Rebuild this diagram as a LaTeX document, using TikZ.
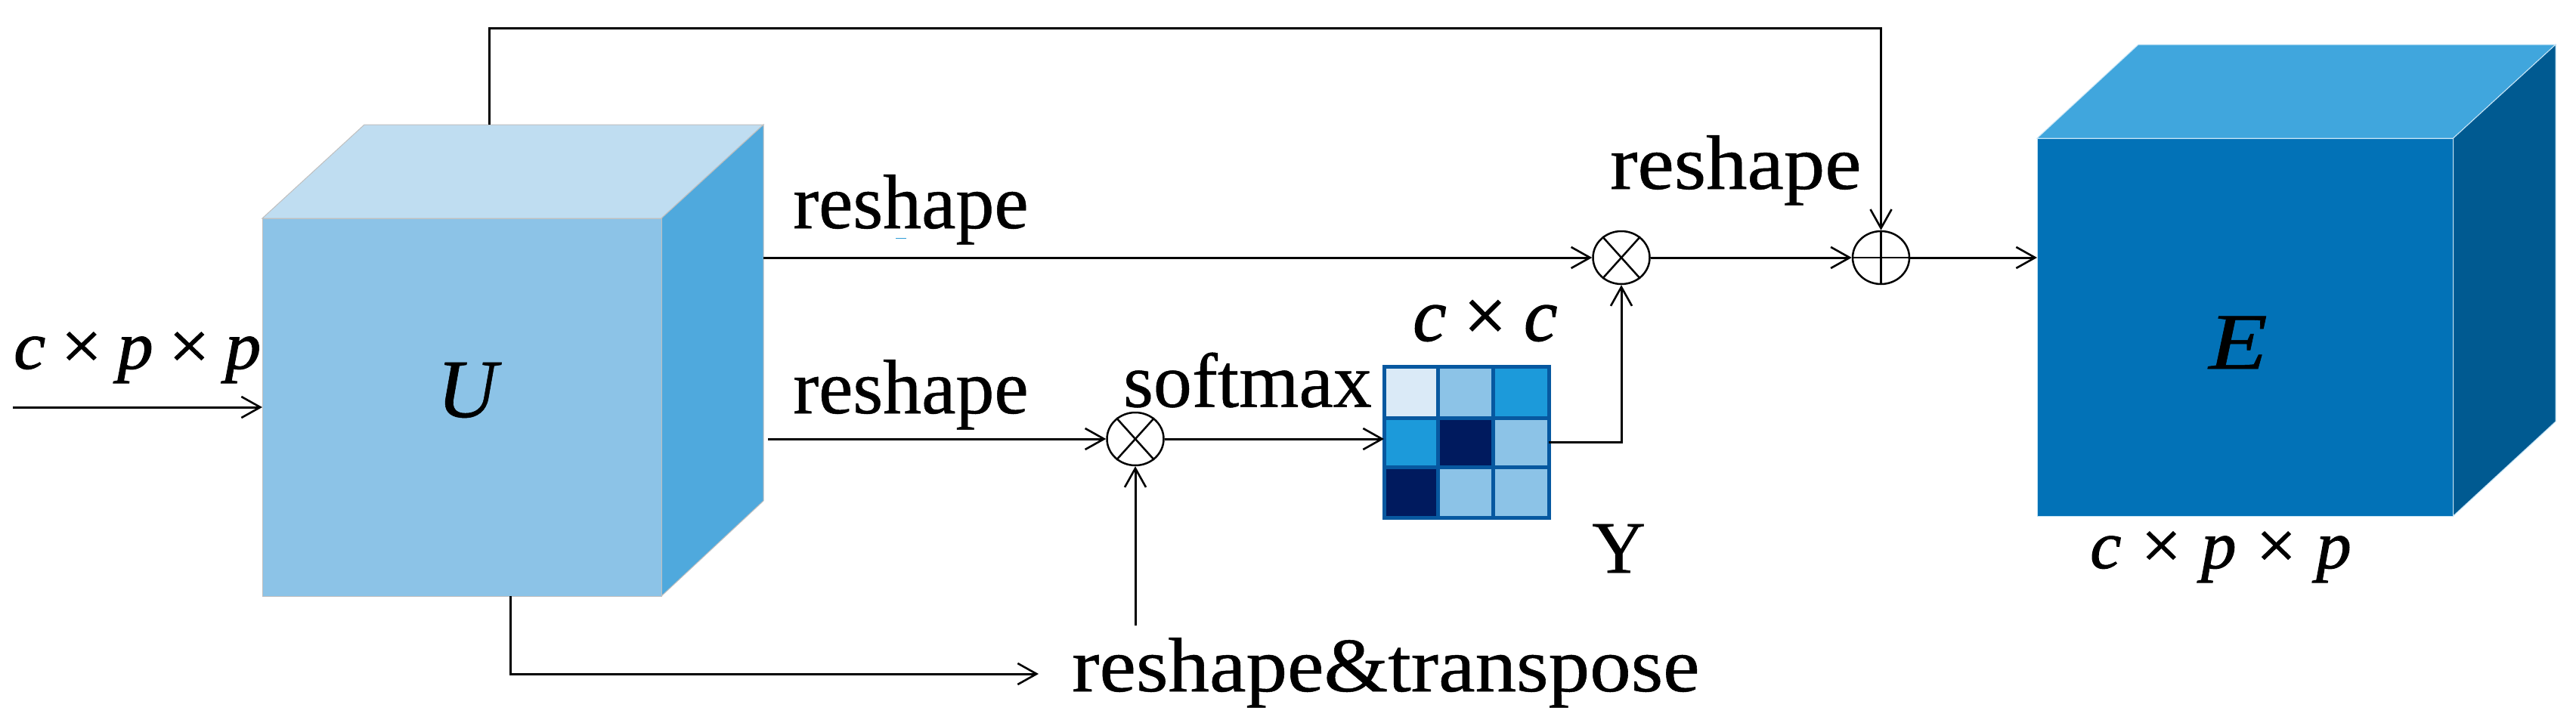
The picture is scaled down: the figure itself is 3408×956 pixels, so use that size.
\documentclass[tikz,border=0pt]{standalone}
\usepackage{graphicx}
\usepackage{fontspec}
\setmainfont{Liberation Serif}[FakeBold=0.5]
\newfontfamily\dimfont{Liberation Serif}[FakeBold=1.2]
\usetikzlibrary{arrows.meta,shapes.geometric}
\definecolor{uFront}{HTML}{8CC3E7}
\definecolor{uTop}{HTML}{BFDDF1}
\definecolor{uSide}{HTML}{4FA9DD}
\definecolor{eFront}{HTML}{0272B7}
\definecolor{eTop}{HTML}{40A6DD}
\definecolor{eSide}{HTML}{005A91}
\definecolor{gridLine}{HTML}{0758A0}
\definecolor{cLight}{HTML}{DAEAF7}
\definecolor{cBright}{HTML}{1C9ADA}
\definecolor{cDark}{HTML}{001A5E}
\definecolor{speck}{HTML}{2E9BD6}
\newcommand{\labelsize}[1]{\fontsize{#1}{#1}\selectfont}
\newcommand{\dimtext}[1]{\textit{c}\kern#1pt×\kern#1pt\textit{p}\kern#1pt×\kern#1pt\textit{p}}
\tikzset{
  conn/.style={line width=3pt,-{Straight Barb[length=25pt,width=28pt,line width=2.6pt]}},
  lbl/.style={anchor=base west,inner sep=0pt,font=\labelsize{102}},
  dimlbl/.style={anchor=base west,inner sep=0pt,font=\labelsize{90}\dimfont},
  opnode/.style={draw,line width=2.5pt,ellipse,minimum width=75pt,minimum height=70pt,inner sep=0pt,fill=white}
}
\begin{document}
\begin{tikzpicture}[x=1pt,y=-1pt]
\useasboundingbox (0,0) rectangle (3408,956);
% cube U
\fill[uTop,draw=black!25,line width=1pt] (347,289) -- (482,165) -- (1010,165) -- (875,289) -- cycle;
\fill[uSide,draw=black!25,line width=1pt] (875,289) -- (1010,165) -- (1010,663) -- (875,789) -- cycle;
\node[fill=uFront,draw=black!25,line width=1pt,minimum width=528pt,minimum height=500pt,inner sep=0pt] (ufront) at (611,539) {};
\node[anchor=base west,inner sep=0pt,font=\labelsize{110}\itshape] (ulabel) at (578,552) {U};
% cube E
\fill[eTop,draw=white!70!eTop,line width=1pt] (2695,183) -- (2829,59) -- (3381,59) -- (3245.5,183) -- cycle;
\fill[eSide,draw=white!70!eTop,line width=1pt] (3245.5,183) -- (3381,59) -- (3381,558) -- (3245.5,683) -- cycle;
\node[fill=eFront,draw=white!70!eTop,line width=1pt,minimum width=550.5pt,minimum height=500pt,inner sep=0pt] (efront) at (2970.25,433) {};
\node[anchor=base west,inner sep=0pt,font=\labelsize{106}\itshape] (elabel) at (2922,488) {\scalebox{1.2}[1]{E}};
% grid
\node[minimum width=218pt,minimum height=200pt,inner sep=0pt] (grid) at (1940,585) {};
\fill[cLight]  (1831,485) rectangle (1902,553);
\fill[uFront]  (1902,485) rectangle (1975,553);
\fill[cBright] (1975,485) rectangle (2049,553);
\fill[cBright] (1831,553) rectangle (1902,618);
\fill[cDark]   (1902,553) rectangle (1975,618);
\fill[uFront]  (1975,553) rectangle (2049,618);
\fill[cDark]   (1831,618) rectangle (1902,685);
\fill[uFront]  (1902,618) rectangle (1975,685);
\fill[uFront]  (1975,618) rectangle (2049,685);
\draw[gridLine,line width=5pt] (1831,485) rectangle (2049,685)
  (1902,485) -- (1902,685) (1975,485) -- (1975,685)
  (1831,553) -- (2049,553) (1831,618) -- (2049,618);
% operators
\node[opnode] (mulA) at (1502,581) {};
\node[opnode] (mulB) at (2145,341) {};
\node[opnode] (addA) at (2488.5,341) {};
\foreach \n in {mulA,mulB}{
  \draw[line width=2.5pt] (\n.48) -- (\n.228) (\n.132) -- (\n.312);
}
\draw[line width=2.5pt] (addA.north) -- (addA.south) (addA.west) -- (addA.east);
% labels
\node[dimlbl] (dimIn) at (18,488) {\scalebox{1.05}[1]{\dimtext{20}}};
\node[dimlbl] (dimE) at (2765,752) {\scalebox{1.03}[1]{\dimtext{26}}};
\node[anchor=base west,inner sep=0pt,font=\labelsize{100}\dimfont] (dimY) at (1869,451) {\textit{c}\kern23pt×\kern23pt\textit{c}};
\node[lbl] (rsA) at (1049,302) {reshape};
\node[lbl] (rsB) at (1049,547) {reshape};
\node[lbl] (rsC) at (2130,250) {\scalebox{1.067}[1]{reshape}};
\node[lbl] (sm) at (1486,538.5) {softmax};
\node[lbl] (rt) at (1418,915) {\scalebox{1.07}[1]{reshape\&transpose}};
\node[anchor=base west,inner sep=0pt,font=\labelsize{98}] (ylbl) at (2106,758) {Y};
\fill[speck] (1185,314.5) rectangle (1199,316);
% free ends
\coordinate (inStart) at (17,539);
\coordinate (inEnd) at (347,539);
\coordinate (topStart) at (647,165);
\coordinate (topMid) at (2488.5,37);
\coordinate (botStart) at (675,789);
\coordinate (botEnd) at (1374,892);
\coordinate (aStart) at (1010,341);
\coordinate (bStart) at (1016,581);
\coordinate (gridIn) at (1831,581);
\coordinate (rtTop) at (1502,828);
\coordinate (eIn) at (2695,341);
% connectors
\draw[conn] (inStart) -- (inEnd);
\draw[conn] (topStart) |- (topMid) -- (addA.north);
\draw[conn] (botStart) |- (botEnd);
\draw[conn] (aStart) -- (mulB.west);
\draw[conn] (bStart) -- (mulA.west);
\draw[conn] (mulA.east) -- (gridIn);
\draw[conn] (rtTop) -- (mulA.south);
\draw[conn] (grid.east) -| (mulB.south);
\draw[conn] (mulB.east) -- (addA.west);
\draw[conn] (addA.east) -- (eIn);
\end{tikzpicture}
\end{document}
